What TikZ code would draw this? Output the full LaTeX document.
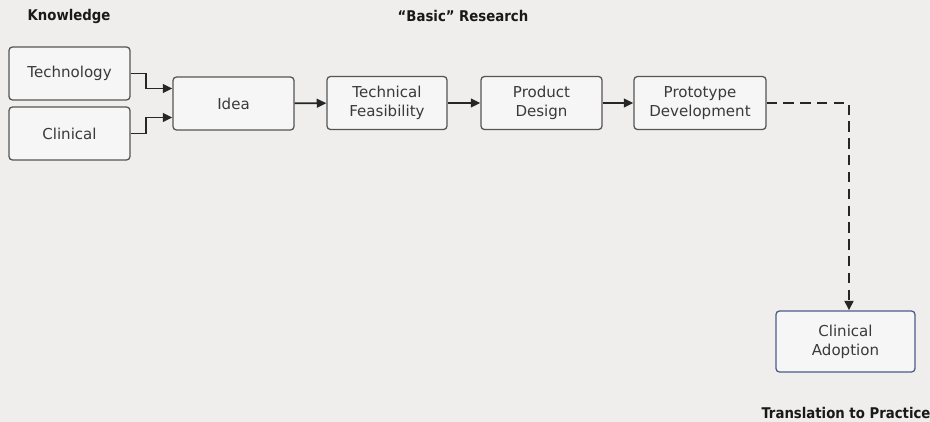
\documentclass[tikz,border=0pt]{standalone}
\usepackage{fontspec}
\setmainfont{DejaVu Sans}
\newfontfamily\labelfont{DejaVu Sans Condensed}
\usetikzlibrary{arrows.meta}
\definecolor{bgcol}{HTML}{EFEEEC}
\definecolor{boxfill}{HTML}{F6F6F6}
\definecolor{boxline}{HTML}{555555}
\definecolor{adoptline}{HTML}{4C5C8C}
\definecolor{textcol}{HTML}{3A3A3A}

\begin{document}
\begin{tikzpicture}[
  x=0.025cm, y=-0.025cm,
  box/.style={draw=boxline, fill=boxfill, rounded corners=2.5pt, line width=0.9pt,
              minimum width=3.025cm, minimum height=1.325cm, align=center,
              font=\fontsize{10.7}{13.5}\selectfont, text=textcol, inner sep=1pt},
  arr/.style={-{Triangle[length=2.4mm, width=2.2mm]}, line width=1.3pt, black!85},
  phase/.style={font=\labelfont\bfseries\fontsize{10.5}{12}\selectfont, text=black!90}
]
  \useasboundingbox[fill=bgcol] (0,0) rectangle (930,422);

  \node[box] (tech) at (69.5,73.5) {Technology};
  \node[box] (clin) at (69.5,133.5) {Clinical};
  \node[box] (idea) at (233.5,103.5) {Idea};
  \node[box, minimum width=3.0cm] (feas) at (387,103) {Technical\\Feasibility};
  \node[box] (design) at (541.5,103) {Product\\Design};
  \node[box, minimum width=3.3cm] (proto) at (700,103) {Prototype\\Development};
  \node[box, draw=adoptline, minimum width=3.475cm, minimum height=1.525cm] (adopt)
    at (845.5,341.5) {Clinical\\Adoption};

  \coordinate (corner) at (849,103);

  \draw[arr] (tech.east) -- ++(15,0) |- ([yshift=0.375cm]idea.west);
  \draw[arr] (clin.east) -- ++(15,0) |- ([yshift=-0.35cm]idea.west);
  \draw[arr] (idea) -- (feas);
  \draw[arr] (feas) -- (design);
  \draw[arr] (design) -- (proto);
  \draw[arr, line width=2pt, dash pattern=on 2.6mm off 1.6mm]
    (proto.east) -- (corner) -- (corner |- adopt.north);

  \node[phase] (know) at (69,16) {Knowledge};
  \node[phase] (basic) at (463,16) {“Basic” Research};
  \node[phase] (trans) at (846,413) {Translation to Practice};
\end{tikzpicture}
\end{document}
